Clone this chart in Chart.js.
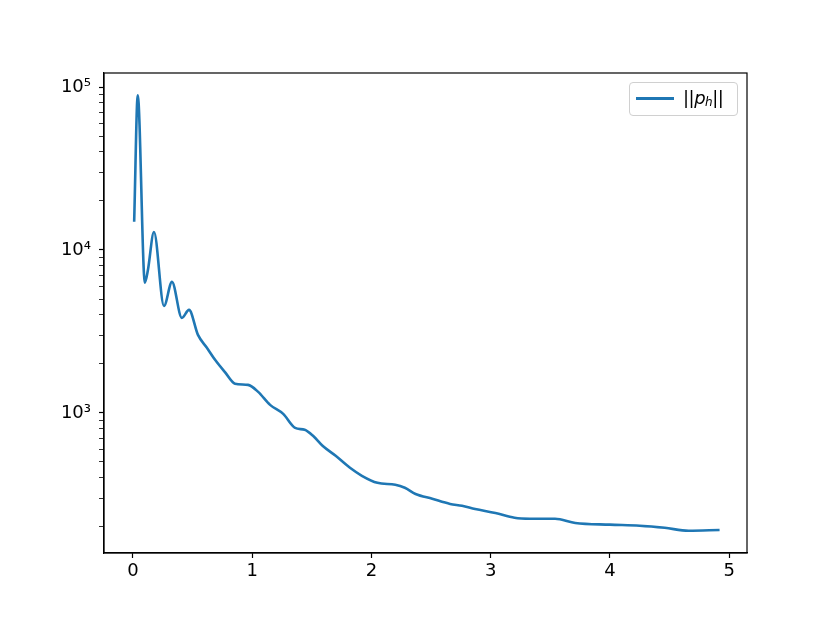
<!DOCTYPE html>
<html>
<head>
<meta charset="utf-8">
<script src="https://cdn.jsdelivr.net/npm/chart.js@4/dist/chart.umd.min.js"></script>
<style>
  body { margin: 0; background: #fff; }
  #wrap { position: relative; width: 830px; height: 622px; }
  #legend {
    position: absolute; left: 629px; top: 82px; width: 107px; height: 32px;
    border: 1px solid #d0d0d0; border-radius: 4px; background: rgba(255,255,255,0.8);
    font-family: "DejaVu Sans", sans-serif; font-size: 18px; color: #000;
  }
  #legend .swatch { position: absolute; left: 6px; top: 14px; width: 38px; height: 3px; background: #1f77b4; }
  #legend .label { position: absolute; left: 53px; top: 4px; font-style: italic; letter-spacing: -0.5px; }
  #legend sub { font-size: 12px; vertical-align: -2px; }
</style>
</head>
<body>
<div id="wrap">
  <canvas id="normChart" width="830" height="622"></canvas>
  <div id="legend"><div class="swatch"></div><div class="label">||p<sub>h</sub>||</div></div>
</div>
<script>
// data
const timeValues = [0.01, 0.04, 0.10, 0.125, 0.176, 0.26, 0.327, 0.41, 0.47, 0.545, 0.62, 0.69, 0.77, 0.856, 0.965,
  1.05, 1.15, 1.26, 1.36, 1.44, 1.51, 1.59, 1.70, 1.82, 1.92, 2.05, 2.2, 2.28, 2.37, 2.51, 2.66, 2.76, 2.87,
  3.04, 3.2, 3.33, 3.54, 3.71, 4.0, 4.25, 4.46, 4.66, 4.92];
const pNorm = [14900, 89000, 6300, 7500, 12900, 4530, 6370, 3830, 4290, 3010, 2510, 2110, 1785, 1510, 1485,
  1346, 1120, 986, 809, 787, 723, 628, 545, 460, 411, 372, 362, 347, 318, 297, 276, 269, 257,
  243, 227, 224, 224, 211, 206, 203, 197, 189, 191];
const xTicks = [0, 1, 2, 3, 4, 5];
const superDigits = { '2': '²', '3': '³', '4': '⁴', '5': '⁵' };

const isMajor = v => Math.abs(Math.log10(v) - Math.round(Math.log10(v))) < 1e-6;

// black frame around the plot, like the spines
const frame = {
  id: 'frame',
  afterDraw(chart) {
    const a = chart.chartArea, ctx = chart.ctx;
    ctx.save();
    ctx.strokeStyle = '#000';
    ctx.lineWidth = 1.2;
    ctx.strokeRect(a.left, a.top, a.right - a.left, a.bottom - a.top);
    ctx.restore();
  }
};

const normConfig = {
  type: 'line',
  data: {
    datasets: [{
      label: '||p_h||',
      data: timeValues.map((t, i) => ({ x: t, y: pNorm[i] })),
      borderColor: '#1f77b4',
      borderWidth: 2.6,
      pointRadius: 0,
      cubicInterpolationMode: 'monotone'
    }]
  },
  options: {
    responsive: false,
    animation: false,
    layout: { padding: { left: 0, top: 73, right: 83, bottom: 0 } },
    plugins: { legend: { display: false }, tooltip: { enabled: false } },
    scales: {
      x: {
        type: 'linear',
        min: -0.243,
        max: 5.15,
        afterFit(s) { s.height = 69; },
        afterBuildTicks(s) { s.ticks = xTicks.map(v => ({ value: v })); },
        ticks: { color: '#000', font: { family: 'DejaVu Sans', size: 18 }, padding: 3, includeBounds: false },
        grid: { drawOnChartArea: false, tickLength: 5, color: '#000', tickWidth: 1.2 },
        border: { color: '#000', width: 1.2 }
      },
      y: {
        type: 'logarithmic',
        min: 138,
        max: 122000,
        afterFit(s) { s.width = 104; },
        afterBuildTicks(s) {
          s.ticks = s.ticks.filter(t => {
            const m = t.value / Math.pow(10, Math.floor(Math.log10(t.value) + 1e-9));
            return Math.abs(m - Math.round(m)) < 1e-6;
          });
        },
        ticks: {
          color: '#000',
          font: { family: 'DejaVu Sans', size: 18 },
          padding: 8,
          autoSkip: false,
          callback(v) {
            if (!isMajor(v)) return '';
            const e = String(Math.round(Math.log10(v)));
            return '10' + (superDigits[e] || e);
          }
        },
        grid: {
          drawOnChartArea: false,
          tickLength: 5,
          color: '#000',
          tickWidth: ctx => (ctx.tick && isMajor(ctx.tick.value) ? 1.2 : 0.8)
        },
        border: { color: '#000', width: 1.2 }
      }
    }
  },
  plugins: [frame]
};

const normChart = new Chart(document.getElementById('normChart'), normConfig);
</script>
</body>
</html>
